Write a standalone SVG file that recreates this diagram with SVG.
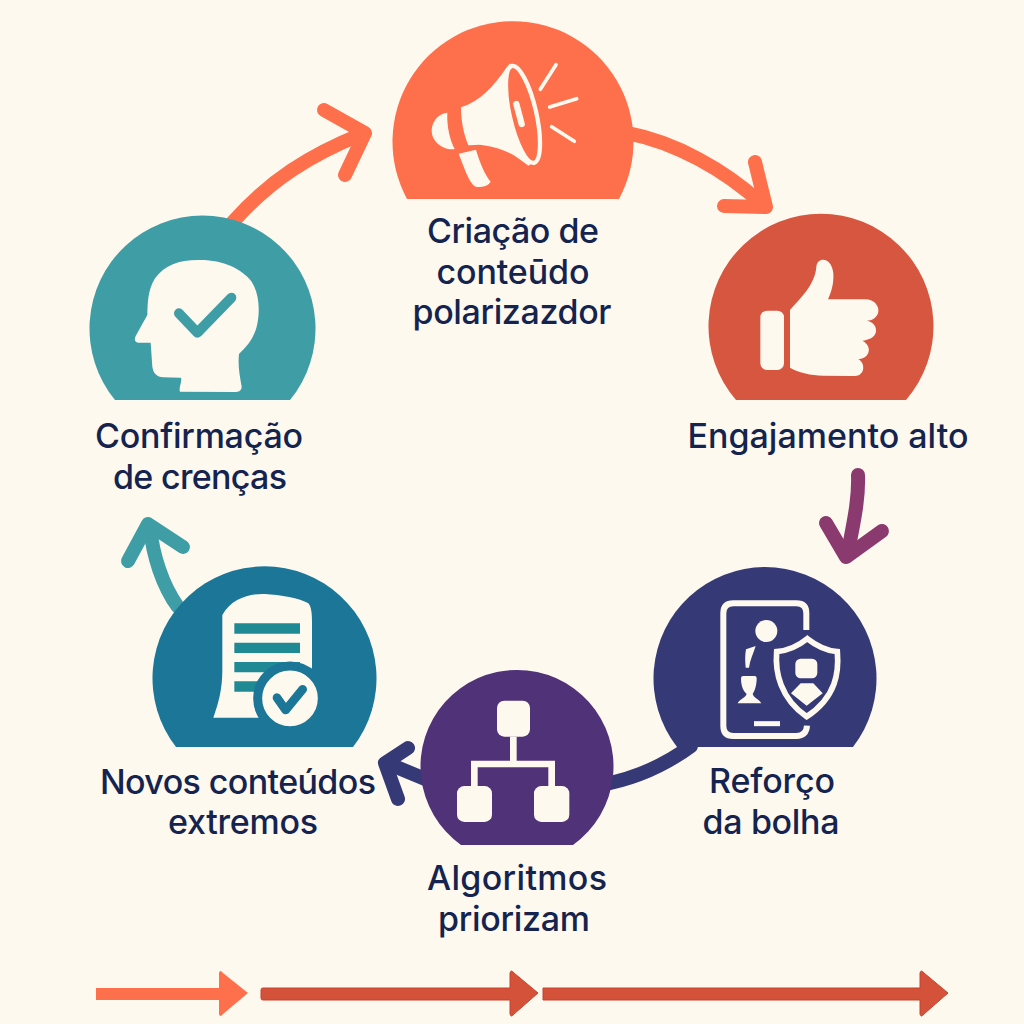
<svg xmlns="http://www.w3.org/2000/svg" width="1024" height="1024" viewBox="0 0 1024 1024">
<style>
.t{font-family:"Inter","Liberation Sans",sans-serif;font-weight:500;font-size:34px;fill:#14244f;text-anchor:middle}
.c{fill:#fef9ef}
.a{fill:none;stroke-linecap:round;stroke-linejoin:round;stroke-width:14}
.o{stroke:#fe6f4b}.p{stroke:#8a3a6e}.g{stroke:#3f9da5}.n{stroke:#353a77}
</style>
<rect width="1024" height="1024" fill="#fef9ef"/>
<g id="connectors">
<path class="a o" d="M233 222C270 180 310 155 362 134"/><path class="a o" d="M324 110L365 133L345 175"/>
<path class="a o" d="M627 133C675 142 725 170 762 204"/><path class="a o" d="M755 162L766 207L724 206"/>
<path class="a p" d="M858 475C859 500 853 525 848 552"/><path class="a p" d="M826 523L846 557L882 531"/>
<path class="a g" d="M178 607C162 585 153 555 150 528"/><path class="a g" d="M128 561L148 524L183 547"/>
<path class="a n" d="M691 746C668 763 640 778 600 785"/>
<path class="a n" d="M430 781L389 764"/><path class="a n" d="M408 748L385 763L398 799"/>
</g>
<g id="timeline">
<path fill="#fe6f4b" d="M96 988H219V973Q220 969 223 973L248 993L223 1014Q220 1018 219 1014V1000H96Z"/>
<path fill="#d4513a" stroke="#c8432c" d="M263 988H510V973Q511 969 514 973L538 993L514 1014Q511 1018 510 1014V1000H263Q261 1000 261 998V990Q261 988 263 988Z"/>
<path fill="#d4513a" stroke="#c8432c" d="M543 988H920V973Q921 969 924 973L948 993L924 1014Q921 1018 920 1014V1000H543Z"/>
</g>
<g id="node-criacao">
<path fill="#fe6f4b" d="M407 199A120.500 120.500 0 1 1 619 199Z"/>
<g transform="translate(380 0) scale(.33333)">
<path class="c" d="M243 322C300 305 340 260 378 205L390 190L470 480L445 497C420 480 390 445 300 434L265 436C250 400 243 360 243 322Z"/>
<ellipse cx="429" cy="343" rx="40" ry="149" transform="rotate(-12.800 429 343)" fill="#fe6f4b" stroke="#fef9ef" stroke-width="13"/>
<path d="M409 312L425 372" stroke="#fef9ef" stroke-width="19" stroke-linecap="round" fill="none"/>
<path d="M481 268L528 194M509 321L590 296M515 380L583 424" stroke="#fef9ef" stroke-width="11" stroke-linecap="round" fill="none"/>
<path class="c" d="M202 338C170 342 155 370 155 392C155 425 190 452 224 447C210 420 200 380 202 338Z"/>
<path class="c" d="M236 461L288 449C300 490 315 525 332 545C325 558 305 562 290 561C270 555 255 510 236 461Z"/>
</g>
<text class="t" x="513" y="243" textLength="172">Criação de</text><text class="t" x="513" y="284" textLength="153">conteūdo</text><text class="t" x="512" y="324" textLength="199">polarizazdor</text>
</g>
<g id="node-engajamento">
<path fill="#d65640" d="M736 400A112.500 112.500 0 1 1 906 400Z"/>
<g transform="translate(700 210) scale(.33333)" class="c">
<rect x="181" y="302" width="71" height="178" rx="20"/>
<path d="M270 300C300 265 345 225 349 170C352 140 395 140 400 190C402 225 392 250 384 268L495 268C525 268 537 290 535 305C533 322 515 332 500 332C520 335 530 350 528 365C525 382 505 390 487 392C503 400 510 415 505 428C500 442 485 447 475 447C490 455 493 475 487 485C480 497 470 498 455 498L370 497C330 495 300 490 270 473Z"/>
</g>
<text class="t" x="828" y="448" textLength="281">Engajamento alto</text>
</g>
<g id="node-reforco">
<path fill="#353a77" d="M677 747A111.500 111.500 0 1 1 853 747Z"/>
<g transform="translate(640 570) scale(.33333)">
<path d="M499 180V130Q499 100 469 100H280Q250 100 250 130V468Q250 498 280 498H469Q499 498 501 467" fill="none" stroke="#fef9ef" stroke-width="18"/>
<circle class="c" cx="379" cy="183" r="33"/>
<path d="M342 461H420" stroke="#fef9ef" stroke-width="15" fill="none"/>
<path class="c" d="M318 238L347 228C340 250 330 270 327 293H317C315 270 315 255 318 238Z"/>
<path class="c" d="M303 325Q303 318 310 318H344Q350 318 350 325C350 345 345 362 338 372C342 385 358 388 364 400H293C298 388 315 385 320 372C308 362 303 345 303 325Z"/>
<path d="M502 206C530 228 560 242 592 245C597 305 590 380 500 440C420 385 405 305 410 245C445 242 475 228 502 206Z" fill="#353a77" stroke="#fef9ef" stroke-width="17"/>
<rect class="c" x="466" y="266" width="66" height="59" rx="16"/>
<path class="c" d="M453 370L482 340H520L548 370L500 407Z"/>
</g>
<text class="t" x="772" y="793" textLength="126">Reforço</text><text class="t" x="771" y="834" textLength="137">da bolha</text>
</g>
<g id="node-algoritmos">
<path fill="#503278" d="M461 845A96.500 96.500 0 1 1 573 845Z"/>
<g transform="translate(370 680) scale(.33333)">
<path d="M430 170V252M313 320V252H545V320" fill="none" stroke="#fef9ef" stroke-width="20"/>
<rect class="c" x="381" y="62" width="99" height="108" rx="22"/>
<rect class="c" x="261" y="318" width="105" height="108" rx="22"/>
<rect class="c" x="492" y="318" width="106" height="108" rx="22"/>
</g>
<text class="t" x="517" y="890" textLength="180">Algoritmos</text><text class="t" x="514" y="931" textLength="152">priorizam</text>
</g>
<g id="node-novos">
<path fill="#1b7698" d="M176 747A112 112 0 1 1 353 747Z"/>
<g transform="translate(140 570) scale(.33333)">
<path class="c" d="M247 135C275 85 330 70 375 72C420 74 480 85 505 100C518 115 516 150 516 180V330L355 443H220C235 400 247 360 247 300Z"/>
<path fill="#1f8a94" d="M283 160H480V191H283ZM283 218H480V249H283ZM283 276H480V307H283ZM283 334H480V365H283Z"/>
<circle class="c" cx="450" cy="385" r="97" stroke="#1b7698" stroke-width="27"/>
<path d="M411 383L437 420L488 358" fill="none" stroke="#1b7698" stroke-width="26" stroke-linecap="round" stroke-linejoin="round"/>
</g>
<text class="t" x="238" y="794" textLength="276">Novos conteúdos</text><text class="t" x="243" y="834" textLength="150">extremos</text>
</g>
<g id="node-confirmacao">
<path fill="#3f9da5" d="M115 400A113 113 0 1 1 290 400Z"/>
<g transform="translate(85 210) scale(.33333)">
<path class="c" d="M285 545C280 535 292 515 288 503L235 502C215 500 205 490 202 470L197 398H160C148 396 148 388 152 378L187 315C188 280 188 240 210 205C240 165 280 150 340 150C410 148 470 175 500 215C525 255 525 310 515 350C505 390 480 415 462 432C458 470 465 500 470 530C470 542 460 546 450 546Z"/>
<path d="M282 310L337 368L439 263" fill="none" stroke="#3f9da5" stroke-width="30" stroke-linecap="round" stroke-linejoin="round"/>
</g>
<text class="t" x="199" y="448" textLength="208">Confirmação</text><text class="t" x="200" y="489" textLength="174">de crenças</text>
</g>
</svg>
